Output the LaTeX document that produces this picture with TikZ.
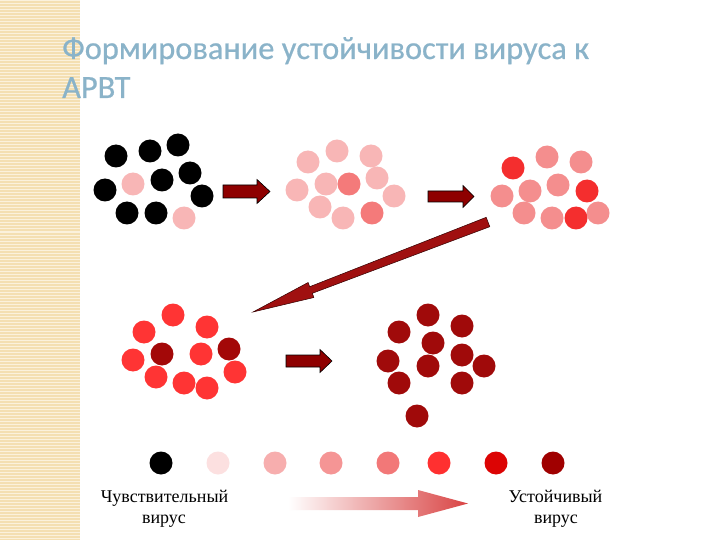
\documentclass[tikz,border=0pt]{standalone}
\usepackage{fontspec}
\setmainfont{Liberation Serif}
\newfontfamily\titlefont[FakeBold=0.6]{Carlito}
\definecolor{band}{HTML}{F4DFB2}
\definecolor{bandline}{HTML}{FBF1DC}
\definecolor{titleblue}{HTML}{8AB3C9}
\definecolor{pinkA}{HTML}{F8B6B6}
\definecolor{salB}{HTML}{F47A7A}
\definecolor{salC}{HTML}{F48E8E}
\definecolor{redC}{HTML}{F42E2E}
\definecolor{redD}{HTML}{FF3434}
\definecolor{dkD}{HTML}{A30808}
\definecolor{dkE}{HTML}{A00A0A}
\definecolor{lg2}{HTML}{FCE0E0}
\definecolor{lg3}{HTML}{F7AEAE}
\definecolor{lg4}{HTML}{F59595}
\definecolor{lg5}{HTML}{F27878}
\definecolor{lg6}{HTML}{FF3030}
\definecolor{lg7}{HTML}{DC0404}
\definecolor{lg8}{HTML}{A00000}
\definecolor{arrowred}{HTML}{8E0000}
\definecolor{diagred}{HTML}{A01010}
\definecolor{gradred}{HTML}{D94444}
\tikzset{
  vir/.style={circle, minimum size=23pt, inner sep=0pt, fill=#1},
  blockarrow/.style={fill=arrowred, draw=black, line width=0.6pt, line join=miter},
  legtext/.style={font=\fontsize{18}{21}\selectfont, anchor=base, inner sep=0pt},
  titletext/.style={font=\titlefont\fontsize{32.4}{38}\selectfont, text=titleblue, anchor=base west, inner sep=0pt}
}
\begin{document}
\begin{tikzpicture}[x=1pt,y=-1pt]
\useasboundingbox (0,0) rectangle (720,540);
\fill[white] (0,0) rectangle (720,540);
% left decorative band
\fill[band] (0,0) rectangle (80,540);
\foreach \yy in {1,4,...,540} {
  \draw[bandline, line width=1pt] (0,\yy) -- (80,\yy);
}
% title
\node[titletext] (t1) at (62,59) {Формирование устойчивости вируса к};
\node[titletext] (t2) at (62,98) {АРВТ};
% cluster 1
\foreach \n/\x/\y/\c in {1/116/156/black, 2/150/151/black, 3/178/145/black, 4/162/180/black, 5/190/173/black, 6/105/190/black, 7/133/184/pinkA, 8/202/196/black, 9/127/213/black, 10/156/213/black, 11/184/218/pinkA} {
  \node[vir=\c] (a\n) at (\x,\y) {};
}
% cluster 2
\foreach \n/\x/\y/\c in {1/308/162/pinkA, 2/337/151/pinkA, 3/371/156/pinkA, 4/297/190/pinkA, 5/326/184/pinkA, 6/349/184/salB, 7/377/178/pinkA, 8/394/196/pinkA, 9/320/207/pinkA, 10/343/218/pinkA, 11/372/213/salB} {
  \node[vir=\c] (b\n) at (\x,\y) {};
}
% cluster 3
\foreach \n/\x/\y/\c in {1/513/168/redC, 2/547/157/salC, 3/581/162/salC, 4/502/196/salC, 5/530/191/salC, 6/558/185/salC, 7/587/191/redC, 8/524/213/salC, 9/552/218/salC, 10/576/218/redC, 11/598/213/salC} {
  \node[vir=\c] (c\n) at (\x,\y) {};
}
% cluster 4
\foreach \n/\x/\y/\c in {1/173/315/redD, 2/144/332/redD, 3/207/327/redD, 4/133/360/redD, 5/162/354/dkD, 6/201/354/redD, 7/229/349/dkD, 8/235/372/redD, 9/156/377/redD, 10/184/383/redD, 11/207/388/redD} {
  \node[vir=\c] (d\n) at (\x,\y) {};
}
% cluster 5
\foreach \n/\x/\y in {1/428/315, 2/399/332, 3/462/326, 4/433/343, 5/388/361, 6/428/366, 7/462/355, 8/484/366, 9/399/383, 10/462/383, 11/417/416} {
  \node[vir=dkE] (e\n) at (\x,\y) {};
}
% block arrows
\draw[blockarrow] (223,185) -- (257,185) -- (257,179.5) -- (270,191.5) -- (257,203.5) -- (257,198) -- (223,198) -- cycle;
\draw[blockarrow] (428,191) -- (463,191) -- (463,185.5) -- (474,196.5) -- (463,207.5) -- (463,202) -- (428,202) -- cycle;
\draw[blockarrow] (286,355) -- (320,355) -- (320,349.5) -- (332,361) -- (320,372.5) -- (320,367) -- (286,367) -- cycle;
% diagonal arrow
\draw[fill=diagred, draw=black!80!red, line width=0.5pt, line join=miter]
  (489.8,226.7) -- (312.3,293.3) -- (313.9,297.5) -- (253,312) -- (308.1,282.5) -- (309.7,286.7) -- (486.2,217.3) -- cycle;
% legend circles
\foreach \n/\x/\c in {1/161/black, 2/218/lg2, 3/275/lg3, 4/331/lg4, 5/388/lg5, 6/439/lg6, 7/496/lg7, 8/553/lg8} {
  \node[vir=\c] (l\n) at (\x,463) {};
}
% legend texts
\node[legtext] (s1) at (164.5,502) {Чувствительный};
\node[legtext] (s2) at (164,523) {вирус};
\node[legtext] (r1) at (555.5,502) {Устойчивый};
\node[legtext] (r2) at (556,523) {вирус};
% gradient arrow
\shade[left color=white, right color=gradred]
  (288,497) -- (418,497) -- (418,490) -- (468,503.5) -- (418,517) -- (418,510) -- (288,510) -- cycle;
\end{tikzpicture}
\end{document}
